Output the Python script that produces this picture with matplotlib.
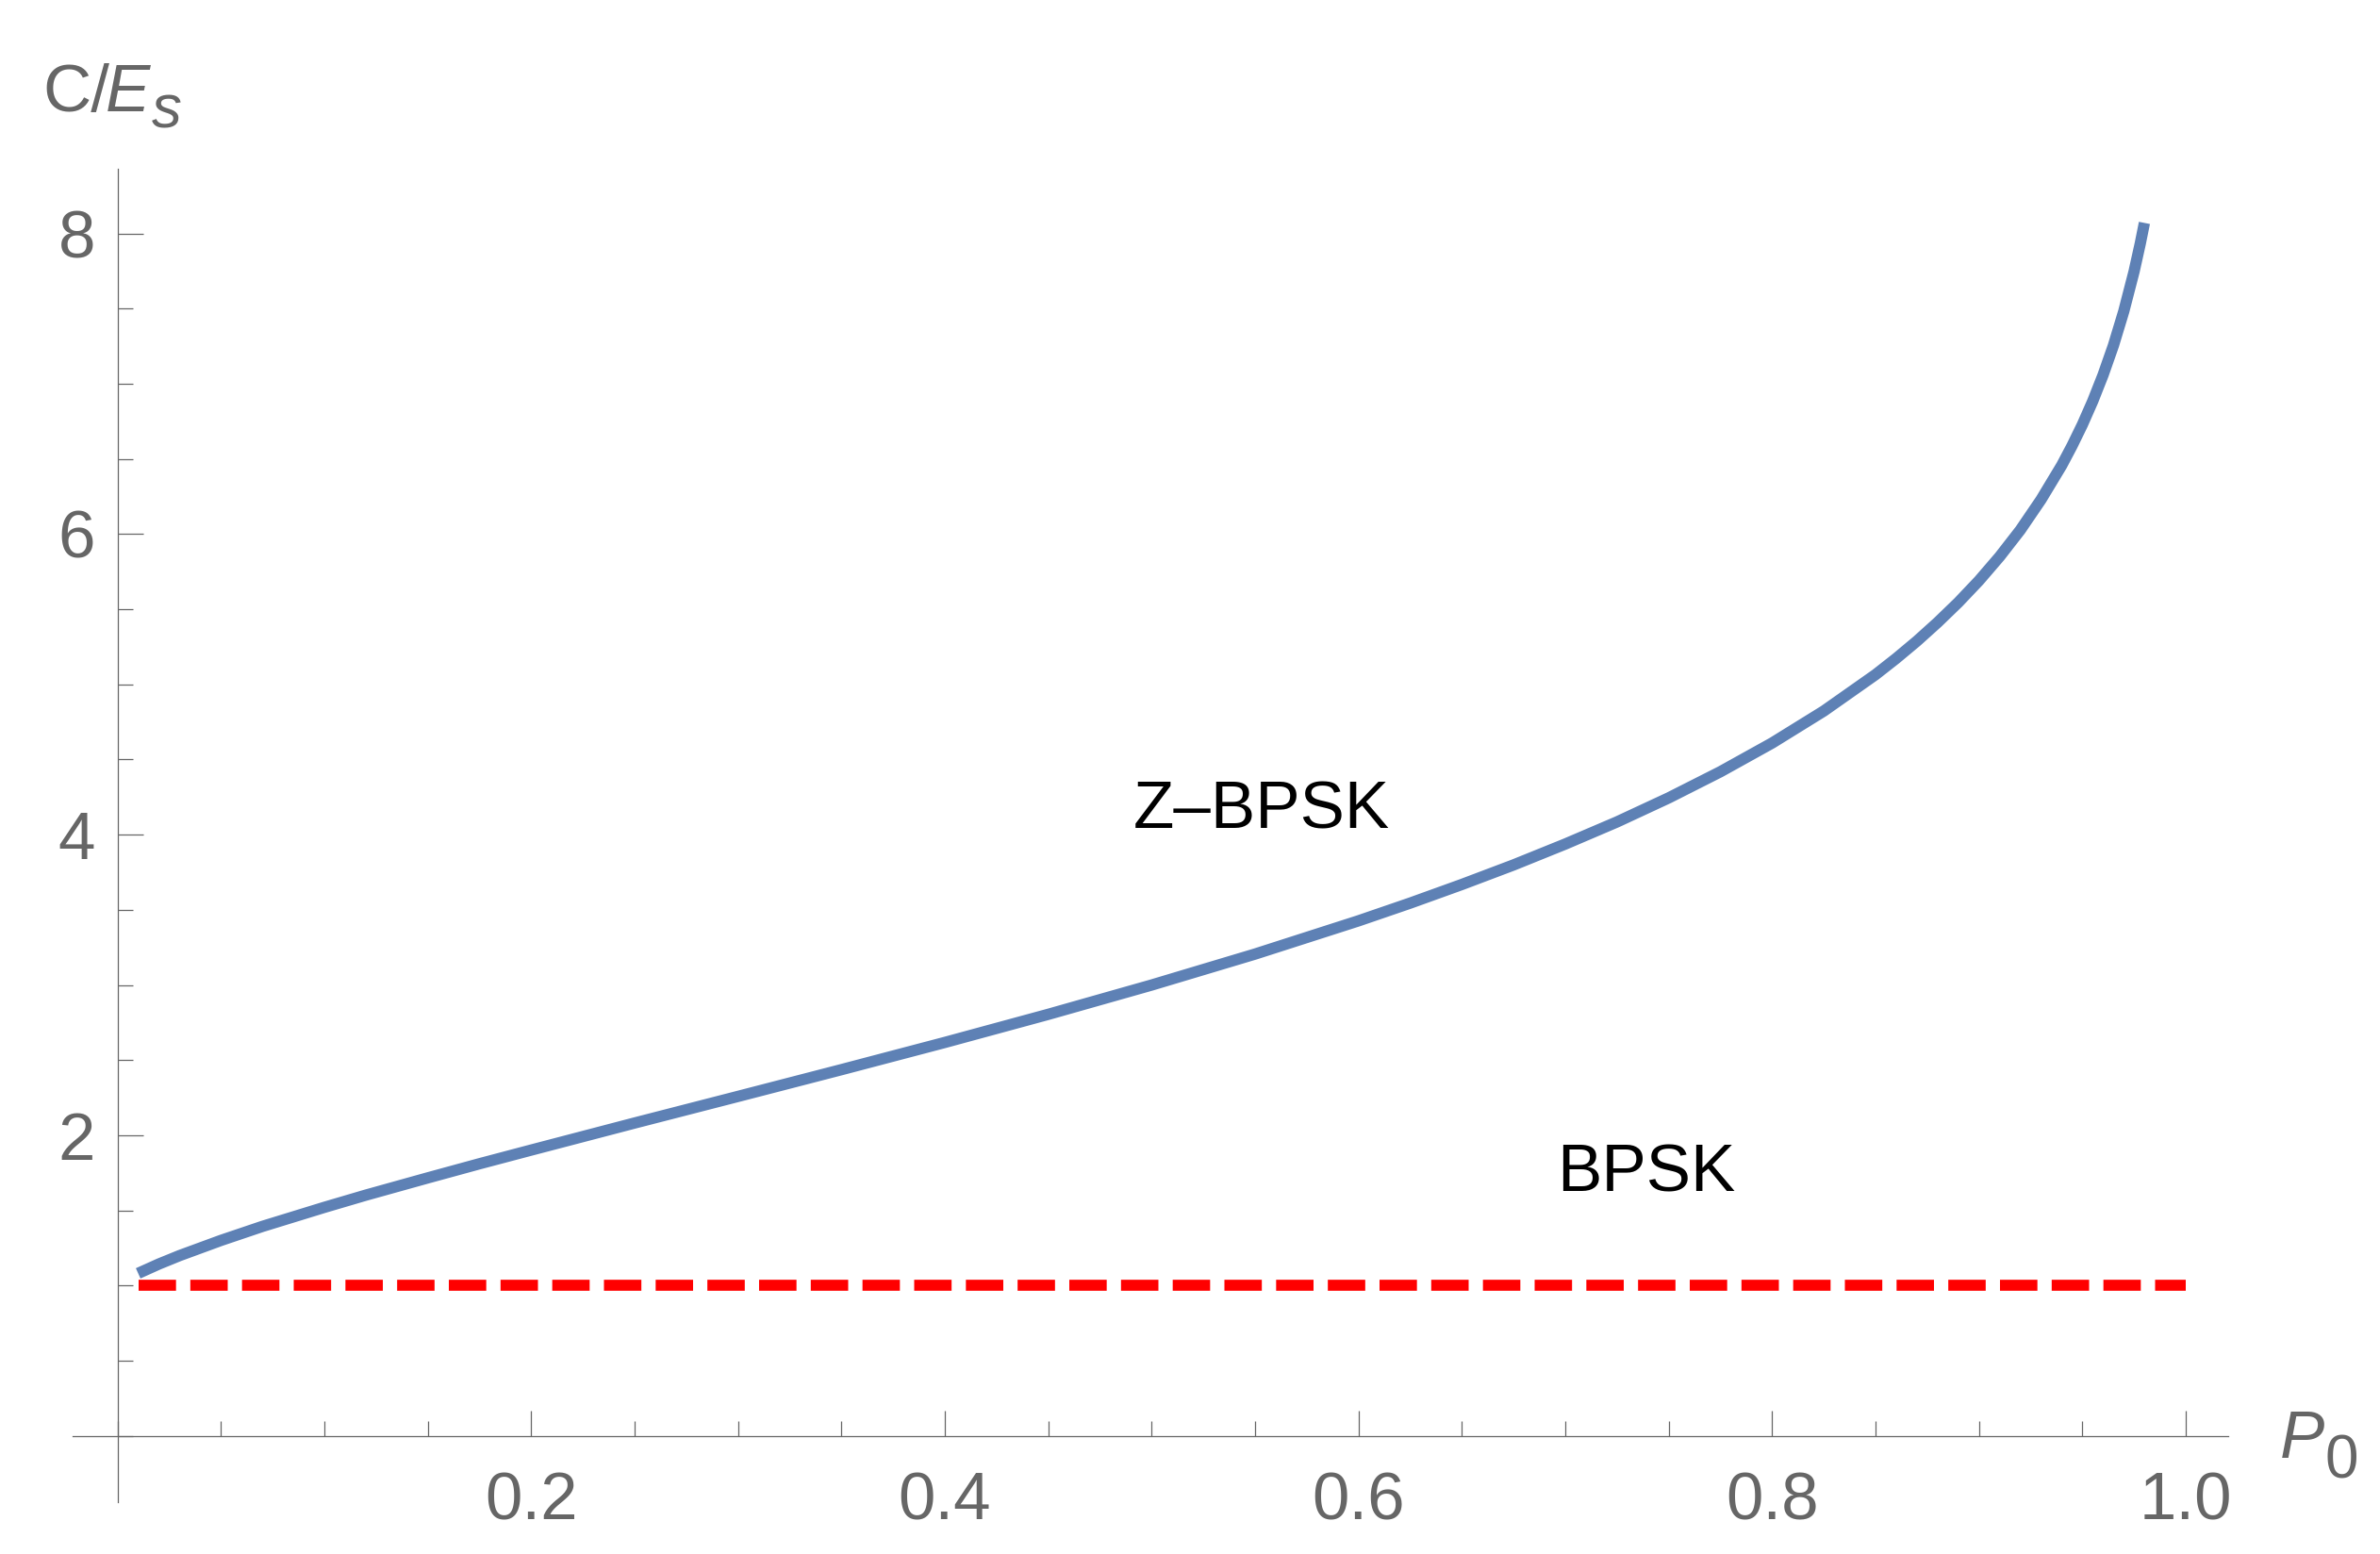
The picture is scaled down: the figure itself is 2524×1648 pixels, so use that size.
import matplotlib
matplotlib.use("Agg")
import matplotlib.pyplot as plt
from matplotlib.ticker import MultipleLocator, FixedLocator

# ---- data ----
p0 = [0.01, 0.02, 0.03, 0.05, 0.07, 0.10, 0.12, 0.15, 0.175, 0.20, 0.25, 0.30,
      0.35, 0.40, 0.45, 0.50, 0.55, 0.60, 0.625, 0.65, 0.675, 0.70, 0.725,
      0.75, 0.775, 0.80, 0.825, 0.85, 0.86, 0.87, 0.88, 0.89, 0.90, 0.91,
      0.92, 0.93, 0.94, 0.945, 0.95, 0.955, 0.96, 0.965, 0.97, 0.975, 0.978, 0.98]
zbpsk = [1.082, 1.144, 1.200, 1.301, 1.394, 1.521, 1.602, 1.717, 1.811, 1.902,
         2.082, 2.259, 2.437, 2.618, 2.805, 3.000, 3.206, 3.427, 3.545, 3.669,
         3.799, 3.938, 4.085, 4.245, 4.419, 4.610, 4.823, 5.065, 5.173, 5.288,
         5.412, 5.545, 5.690, 5.850, 6.027, 6.229, 6.457, 6.587, 6.728, 6.884,
         7.058, 7.254, 7.481, 7.747, 7.933, 8.070]
bpsk_x = [0.01, 1.0]
bpsk = [1.0, 1.0]

x_ticks = [0.2, 0.4, 0.6, 0.8, 1.0]
x_tick_labels = ["0.2", "0.4", "0.6", "0.8", "1.0"]
y_ticks = [2, 4, 6, 8]
y_tick_labels = ["2", "4", "6", "8"]
label_zbpsk = "Z\u2013BPSK"
label_bpsk = "BPSK"

W, H, DPI = 2524, 1648, 100
FONT = "Liberation Sans"
GRAY = "#666666"
FS = 51

fig = plt.figure(figsize=(W / DPI, H / DPI), dpi=DPI)
ax = fig.add_axes([77 / W, 1 - 1593 / H, (2363 - 77) / W, (1593 - 179) / H])
ax.set_xlim(-0.0217, 1.0205)
ax.set_ylim(-0.44, 8.43)

ax.plot(p0, zbpsk, color="#5E81B5", lw=8.6, solid_capstyle="butt",
        solid_joinstyle="round", zorder=3)
ax.plot(bpsk_x, bpsk, color="#FF0000", lw=8.4, dashes=(3.4, 1.3),
        dash_capstyle="butt", zorder=2)

for s in ["top", "right"]:
    ax.spines[s].set_visible(False)
for s in ["left", "bottom"]:
    ax.spines[s].set_position(("data", 0))
    ax.spines[s].set_color(GRAY)
    ax.spines[s].set_linewidth(0.9)

ax.xaxis.set_major_locator(FixedLocator(x_ticks))
ax.set_xticklabels(x_tick_labels)
ax.xaxis.set_minor_locator(MultipleLocator(0.05))
ax.yaxis.set_major_locator(FixedLocator(y_ticks))
ax.set_yticklabels(y_tick_labels)
ax.yaxis.set_minor_locator(MultipleLocator(0.5))

ax.tick_params(which="both", direction="in", color=GRAY, width=0.9,
               labelcolor=GRAY, labelsize=FS)
ax.tick_params(which="major", length=19.4)
ax.tick_params(which="minor", length=11.5)
ax.tick_params(axis="x", pad=27)
ax.tick_params(axis="y", pad=17)
for lab in ax.get_xticklabels() + ax.get_yticklabels():
    lab.set_fontfamily(FONT)

# curve labels
ax.text(0.5533, 4.153, label_zbpsk, fontsize=FS, family=FONT, color="black",
        ha="center", va="center")
ax.text(0.7393, 1.738, label_bpsk, fontsize=FS, family=FONT, color="black",
        ha="center", va="center")

# axis labels (positions in pixels from top-left)
def ftext(xp, yp, s, **kw):
    fig.text(xp / W, 1 - yp / H, s, color=GRAY, family=FONT, ha="left",
             va="baseline", **kw)

ftext(45, 118, "C/", fontsize=FS)
ftext(112, 118, "E", fontsize=FS, style="italic")
ftext(161, 135, "s", fontsize=FS * 0.9, style="italic")
ftext(2418, 1546, "P", fontsize=FS, style="italic")
ftext(2466, 1567, "0", fontsize=FS * 0.9)

fig.savefig("out.png", dpi=DPI, facecolor="white")
